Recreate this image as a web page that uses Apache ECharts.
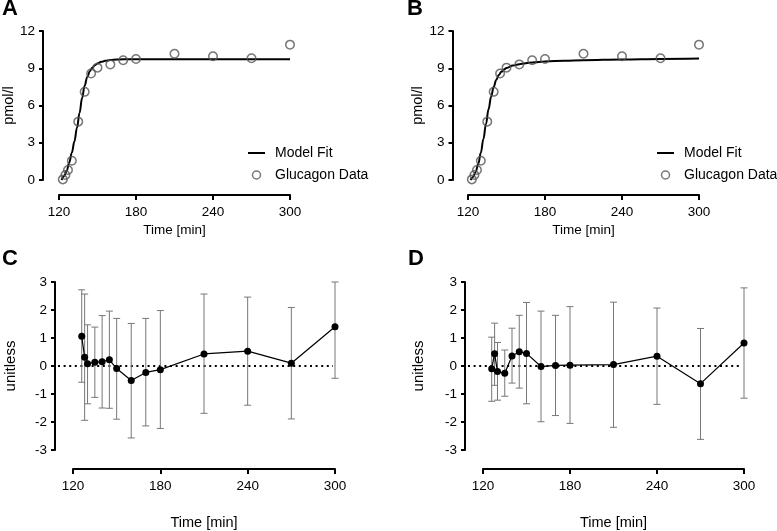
<!DOCTYPE html>
<html>
<head>
<meta charset="utf-8">
<script src="https://cdn.jsdelivr.net/npm/echarts@6/dist/echarts.min.js"></script>
<style>
html,body{margin:0;padding:0;background:#fff;}
#main{width:777px;height:531px;}
</style>
</head>
<body>
<div id="main"></div>
<script>
// ---------- DATA ----------
const timeTicks = [120, 180, 240, 300];
const dataTime = [123, 125, 127, 130, 135, 140, 145, 150, 160, 170, 180, 210, 240, 270, 300];
const glucagon = [0.05, 0.4, 0.8, 1.55, 4.7, 7.1, 8.58, 9.05, 9.31, 9.64, 9.74, 10.17, 9.96, 9.8, 10.9];

const fitTimeA = [122, 124, 126, 128, 130, 132, 134, 136, 138, 140, 142, 144, 146, 148, 150, 153, 156, 160, 165, 170, 300];
const fitValA  = [0, 0.3, 0.75, 1.4, 2.2, 3.1, 4.2, 5.4, 6.6, 7.6, 8.3, 8.75, 9.05, 9.25, 9.38, 9.52, 9.6, 9.66, 9.7, 9.72, 9.72];

const fitTimeB = [122, 124, 126, 128, 130, 132, 134, 136, 138, 140, 142, 144, 146, 148, 150, 155, 160, 170, 180, 195, 210, 240, 270, 300];
const fitValB  = [0, 0.25, 0.65, 1.3, 2.2, 3.3, 4.5, 5.7, 6.7, 7.5, 8.05, 8.45, 8.72, 8.9, 9.02, 9.22, 9.33, 9.46, 9.54, 9.61, 9.65, 9.71, 9.75, 9.78];

const residTime = [126, 128, 130, 135, 140, 145, 150, 160, 170, 180, 210, 240, 270, 300];
const residC   = [1.06, 0.31, 0.08, 0.13, 0.15, 0.22, -0.09, -0.52, -0.23, -0.13, 0.43, 0.53, 0.1, 1.4];
const residCHi = [2.72, 2.57, 1.47, 1.39, 1.8, 1.96, 1.7, 1.52, 1.7, 1.98, 2.57, 2.46, 2.09, 3.0];
const residCLo = [-0.58, -1.94, -1.35, -1.12, -1.5, -1.51, -1.9, -2.57, -2.14, -2.23, -1.69, -1.4, -1.89, -0.44];

const residD   = [-0.1, 0.44, -0.2, -0.26, 0.36, 0.51, 0.45, -0.02, 0.02, 0.03, 0.05, 0.35, -0.63, 0.82];
const residDHi = [1.03, 1.53, 0.84, 0.57, 1.35, 1.81, 2.27, 1.96, 1.81, 2.12, 2.28, 2.07, 1.34, 2.79];
const residDLo = [-1.26, -0.69, -1.22, -1.08, -0.61, -0.79, -1.35, -1.99, -1.77, -2.05, -2.19, -1.37, -2.62, -1.15];

const concTicks = [0, 3, 6, 9, 12];
const residTicks = [-3, -2, -1, 0, 1, 2, 3];

// ---------- HELPERS ----------
const FONT = 'Liberation Sans, Arial, Helvetica, sans-serif';
const zip = (a, b) => a.map((v, i) => [v, b[i]]);

function xAxisCfg(gridIndex, offset, nameGap, nameSize) {
  return {
    gridIndex, type: 'value', min: timeTicks[0], max: timeTicks[timeTicks.length - 1],
    interval: timeTicks[1] - timeTicks[0], offset,
    name: 'Time [min]', nameLocation: 'middle', nameGap,
    nameTextStyle: { color: '#000', fontSize: nameSize, fontFamily: FONT },
    axisLine: { show: true, onZero: false, lineStyle: { color: '#000', width: 2 } },
    axisTick: { show: true, length: 5, lineStyle: { color: '#000', width: 2 } },
    axisLabel: { color: '#000', fontSize: 13.5, fontFamily: FONT, margin: 10 },
    splitLine: { show: false }
  };
}
function yAxisCfg(gridIndex, ticks, name, offset, nameGap, nameSize) {
  return {
    gridIndex, type: 'value', min: ticks[0], max: ticks[ticks.length - 1],
    interval: ticks[1] - ticks[0], offset,
    name, nameLocation: 'middle', nameGap,
    nameTextStyle: { color: '#000', fontSize: nameSize, fontFamily: FONT },
    axisLine: { show: true, onZero: false, lineStyle: { color: '#000', width: 2 } },
    axisTick: { show: true, length: 4, lineStyle: { color: '#000', width: 2 } },
    axisLabel: { color: '#000', fontSize: 13.5, fontFamily: FONT, margin: 8 },
    splitLine: { show: false }
  };
}
function errRender(params, api) {
  const x = api.value(0), lo = api.value(2), hi = api.value(3);
  const p1 = api.coord([x, hi]), p2 = api.coord([x, lo]);
  const w = 3.5;
  const st = { stroke: '#777', lineWidth: 1 };
  return {
    type: 'group', children: [
      { type: 'line', shape: { x1: p1[0], y1: p1[1], x2: p2[0], y2: p2[1] }, style: st },
      { type: 'line', shape: { x1: p1[0] - w, y1: p1[1], x2: p1[0] + w, y2: p1[1] }, style: st },
      { type: 'line', shape: { x1: p2[0] - w, y1: p2[1], x2: p2[0] + w, y2: p2[1] }, style: st }
    ]
  };
}
function baseRender(params, api) {
  const cs = params.coordSys;
  const y = api.coord([timeTicks[0], api.value(0)])[1];
  return {
    type: 'line',
    shape: { x1: cs.x - 15, y1: y, x2: cs.x + cs.width - 2, y2: y },
    style: { stroke: '#000', lineWidth: 2, lineDash: [2, 3.6] }
  };
}
function errData(t, v, lo, hi) { return t.map((x, i) => [x, v[i], lo[i], hi[i]]); }

function fitSeries(idx, t, v) {
  return {
    name: 'Model Fit', type: 'line', xAxisIndex: idx, yAxisIndex: idx,
    data: zip(t, v), symbol: 'none', smooth: 0.4, smoothMonotone: 'x',
    lineStyle: { color: '#000', width: 2 }, itemStyle: { color: '#000' }, z: 3
  };
}
function dataSeries(idx) {
  return {
    name: 'Glucagon Data', type: 'scatter', xAxisIndex: idx, yAxisIndex: idx,
    data: zip(dataTime, glucagon), symbol: 'circle', symbolSize: 8.5,
    itemStyle: { color: 'rgba(255,255,255,0)', borderColor: '#555', borderWidth: 1.5 }, z: 4
  };
}
function residSeries(idx, v, lo, hi) {
  return [
    { type: 'custom', xAxisIndex: idx, yAxisIndex: idx, data: [[0]], renderItem: baseRender, z: 1, silent: true },
    { type: 'custom', xAxisIndex: idx, yAxisIndex: idx, data: errData(residTime, v, lo, hi),
      renderItem: errRender, encode: { x: 0, y: [2, 3] }, z: 2, silent: true },
    { type: 'line', xAxisIndex: idx, yAxisIndex: idx, data: zip(residTime, v),
      symbol: 'circle', symbolSize: 7, showSymbol: true,
      lineStyle: { color: '#000', width: 1.2 }, itemStyle: { color: '#000' }, z: 3 }
  ];
}
function legendCfg(left) {
  return {
    orient: 'vertical', left, top: 146, padding: 0, itemWidth: 17, itemHeight: 8, itemGap: 8,
    data: [
      { name: 'Model Fit', icon: 'path://M0,0 L17,0 L17,2 L0,2 Z',
        itemStyle: { color: '#000' } },
      { name: 'Glucagon Data', icon: 'circle',
        itemStyle: { color: 'rgba(255,255,255,0)', borderColor: '#555', borderWidth: 1.5 } }
    ],
    textStyle: { color: '#000', fontSize: 14, fontFamily: FONT, padding: [0, 0, 0, 5] },
    selectedMode: false
  };
}
function letter(text, left, top) {
  return { type: 'text', left, top, style: { text, font: 'bold 22px ' + FONT, fill: '#000' } };
}

const chart = echarts.init(document.getElementById('main'), null, { renderer: 'canvas' });
chart.setOption({
  backgroundColor: '#fff',
  animation: false,
  grid: [
    { left: 59, top: 31, width: 231, height: 149 },
    { left: 468, top: 31, width: 231, height: 149 },
    { left: 73, top: 282, width: 262, height: 168 },
    { left: 483, top: 282, width: 261, height: 168 }
  ],
  xAxis: [
    xAxisCfg(0, 15, 28, 13.5),
    xAxisCfg(1, 15, 28, 13.5),
    xAxisCfg(2, 19, 46, 14.5),
    xAxisCfg(3, 19, 46, 14.5)
  ],
  yAxis: [
    yAxisCfg(0, concTicks, 'pmol/l', 16, 27, 14.5),
    yAxisCfg(1, concTicks, 'pmol/l', 15.5, 26, 14.5),
    yAxisCfg(2, residTicks, 'unitless', 18, 37, 15),
    yAxisCfg(3, residTicks, 'unitless', 18, 39, 15)
  ],
  legend: [legendCfg(248), legendCfg(657)],
  graphic: [
    letter('A', 2, -2),
    letter('B', 407, -2),
    letter('C', 2, 248),
    letter('D', 408, 248)
  ],
  series: [
    fitSeries(0, fitTimeA, fitValA),
    dataSeries(0),
    fitSeries(1, fitTimeB, fitValB),
    dataSeries(1),
    ...residSeries(2, residC, residCLo, residCHi),
    ...residSeries(3, residD, residDLo, residDHi)
  ]
});
</script>
</body>
</html>
